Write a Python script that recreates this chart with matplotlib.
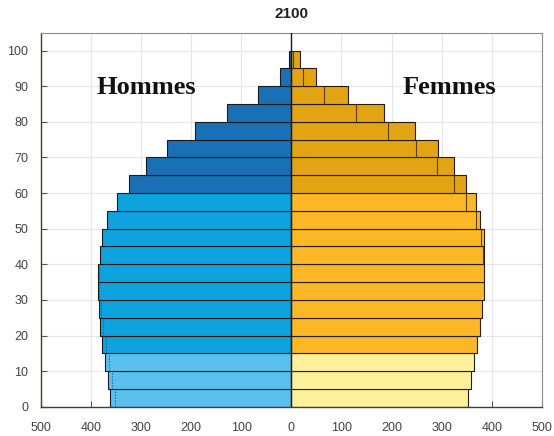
import matplotlib.pyplot as plt
import numpy as np

# 5-year age groups, 0-4 ... 95-99 (thousands)
ages = list(range(0, 100, 5))
hommes = [362, 367, 372, 378, 382, 385, 387, 386, 383, 378,
          368, 349, 325, 291, 248, 193, 128, 66, 23, 4]
femmes = [353, 358, 364, 371, 376, 381, 384, 385, 385, 384,
          376, 369, 349, 325, 292, 247, 185, 114, 49, 17]
xticks = [-500, -400, -300, -200, -100, 0, 100, 200, 300, 400, 500]
xticklabels = ["500", "400", "300", "200", "100", "0", "100", "200", "300", "400", "500"]

# colours by broad age band: 0-14, 15-59, 60+
def band_colors(light, mid, dark):
    return [light if a < 15 else (mid if a < 60 else dark) for a in ages]

col_h = band_colors("#5cc0ee", "#0ea3de", "#1a70b6")
col_f = band_colors("#fff09c", "#fbb726", "#e2a412")

fig = plt.figure(figsize=(5.54, 4.36), dpi=100)
ax = fig.add_axes([0.074, 0.067, 0.904, 0.858])

y = np.array(ages)
ax.barh(y, -np.array(hommes), height=5, align="edge", color=col_h,
        edgecolor="#1a1a1a", linewidth=0.8, zorder=2)
ax.barh(y, femmes, height=5, align="edge", color=col_f,
        edgecolor="#2a1a0a", linewidth=0.8, zorder=2)

# mirrored outline of the other sex, visible inside the bars
for a, h, f in zip(ages, hommes, femmes):
    if h < f:
        ax.vlines(h, a, a + 5, color="#5a3a10", linewidth=0.8, zorder=3)
    elif f < h:
        ax.vlines(-f, a, a + 5, color="#1a4a80", linewidth=0.8,
                  linestyles=":", zorder=3)

ax.axvline(0, color="#1a1a1a", linewidth=1.0, zorder=4)

ax.set_xlim(-500, 500)
ax.set_ylim(0, 105)
ax.set_xticks(xticks)
ax.set_xticklabels(xticklabels)
ax.set_yticks(range(0, 101, 10))
ax.grid(True, color="#e6e6e6", linewidth=0.8, zorder=0)
ax.set_axisbelow(True)
ax.tick_params(direction="in", length=4, width=0.8, colors="#555555",
               labelsize=9, labelcolor="#444444")
ax.tick_params(axis="x", pad=11)
ax.tick_params(axis="y", pad=9)
for lab in ax.get_xticklabels() + ax.get_yticklabels():
    lab.set_family("Liberation Sans")

for side in ["top", "right"]:
    ax.spines[side].set_color("#8a8a8a")
for side in ["left", "bottom"]:
    ax.spines[side].set_color("#4a3a30")
    ax.spines[side].set_linewidth(1.0)

ax.text(-289, 89.5, "Hommes", family="Liberation Serif", weight="bold",
        fontsize=19, ha="center", va="center", color="#111111", zorder=5)
ax.text(316, 89.5, "Femmes", family="Liberation Serif", weight="bold",
        fontsize=19, ha="center", va="center", color="#111111", zorder=5)

fig.text(0.526, 0.968, "2100", family="Liberation Sans", weight="bold",
         fontsize=11, ha="center", va="center", color="#222222")

fig.savefig("out.png", dpi=100)
